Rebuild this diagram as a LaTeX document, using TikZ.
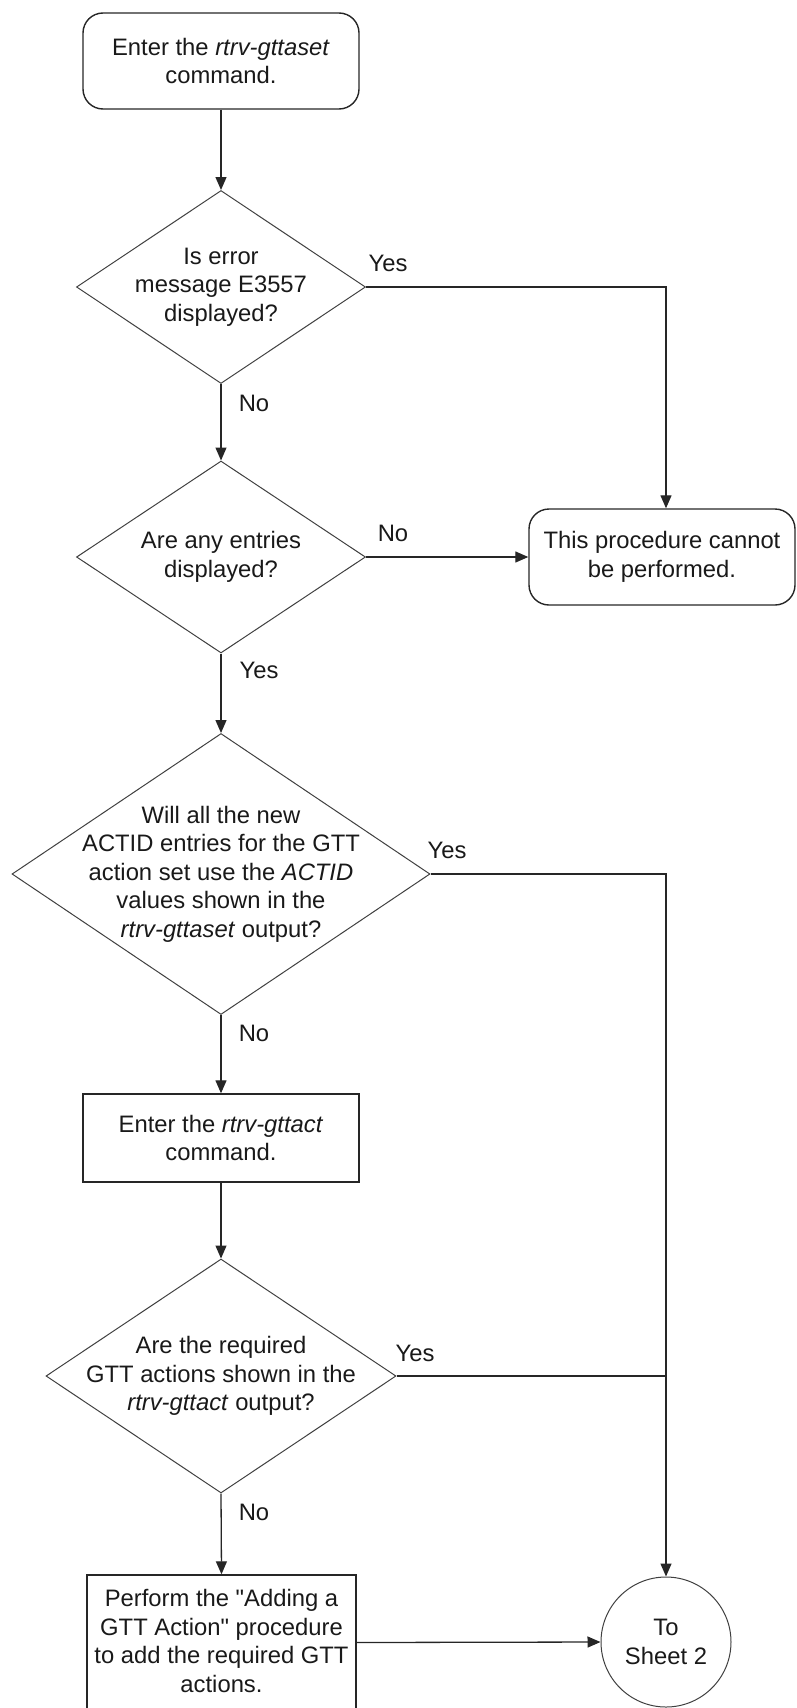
\documentclass[tikz,border=0pt]{standalone}
\usepackage{fontspec}
\setmainfont{Liberation Sans}
\newfontfamily\qfont{Liberation Sans}
\usetikzlibrary{shapes.geometric,arrows.meta}
\newcommand{\mydq}{{\qfont"}}
\begin{document}
\begin{tikzpicture}[x=1pt,y=-1pt,
  every node/.style={font=\fontsize{23.8}{28.5}\selectfont, text=black!90},
  txt/.style={align=center, inner sep=0pt},
  rbox/.style={draw=black!85, line width=1.4pt, rounded corners=20pt, inner sep=0pt},
  pbox/.style={draw=black!85, line width=1.4pt, inner sep=0pt},
  dia/.style={draw=black!75, line width=1pt, diamond, inner sep=0pt},
  conn/.style={circle, draw=black!75, line width=1pt, inner sep=0pt, minimum size=130pt},
  flow/.style={draw=black!85, line width=1.3pt, -{Triangle[length=13pt,width=11pt]}},
  plain/.style={draw=black!85, line width=1.3pt},
  lab/.style={inner sep=0pt}
]
\useasboundingbox (0,0) rectangle (796,1708);

% nodes
\node[rbox, minimum width=276pt, minimum height=96pt] (start) at (221,61) {};
\node[txt] (startt) at (start) {Enter the \textit{rtrv-gttaset}\\command.};

\node[dia, minimum width=289pt, minimum height=193pt] (d1) at (221,287) {};
\node[txt] (d1t) at (d1) {Is error\\message E3557\\displayed?};

\node[dia, minimum width=289pt, minimum height=192pt] (d2) at (221,557) {};
\node[txt] (d2t) at (d2) {Are any entries\\displayed?};

\node[rbox, minimum width=266pt, minimum height=96pt] (stop) at (662,557) {};
\node[txt] (stopt) at (stop) {This procedure cannot\\be performed.};

\node[dia, minimum width=418pt, minimum height=281pt] (d3) at (221,874) {};
\node[txt] (d3t) at (d3) {Will all the new\\ACTID entries for the GTT\\action set use the \textit{ACTID}\\values shown in the\\\textit{rtrv-gttaset} output?};

\node[pbox, minimum width=276pt, minimum height=88pt] (act) at (221,1138) {};
\node[txt] (actt) at (act) {Enter the \textit{rtrv-gttact}\\command.};

\node[dia, minimum width=350pt, minimum height=234pt] (d4) at (221,1376) {};
\node[txt] (d4t) at (d4) {Are the required\\GTT actions shown in the\\\textit{rtrv-gttact} output?};

\node[pbox, minimum width=269pt, minimum height=135pt] (perf) at (221.5,1642.5) {};
\node[txt] (perft) at (221.5,1641) {Perform the \mydq Adding a\\GTT Action\mydq{} procedure\\to add the required GTT\\actions.};

\node[conn] (sheet) at (666,1642) {};
\node[txt] (sheett) at (sheet) {To\\Sheet 2};

\coordinate (j4) at (666,1376);

% connectors
\draw[flow] (start.south) -- (d1.north);
\draw[flow] (d1.east) -| (stop.north -| sheet.north);
\draw[flow] (d1.south) -- (d2.north);
\draw[flow] (d2.east) -- (stop.west);
\draw[flow] (d2.south) -- (d3.north);
\draw[flow] (d3.east) -| (sheet.north);
\draw[flow] (d3.south) -- (act.north);
\draw[flow] (act.south) -- (d4.north);
\draw[plain] (d4.east) -- (j4);
\draw[flow] (d4.south) -- (perf.north);
\draw[flow] (perf.east) -- (sheet.west);

% labels
\node[lab] (l1y) at (388,263) {Yes};
\node[lab] (l1n) at (254,403) {No};
\node[lab] (l2n) at (393,533) {No};
\node[lab] (l2y) at (259,670) {Yes};
\node[lab] (l3y) at (447,850) {Yes};
\node[lab] (l3n) at (254,1033) {No};
\node[lab] (l4y) at (415,1353) {Yes};
\node[lab] (l4n) at (254,1512) {No};
\end{tikzpicture}
\end{document}
